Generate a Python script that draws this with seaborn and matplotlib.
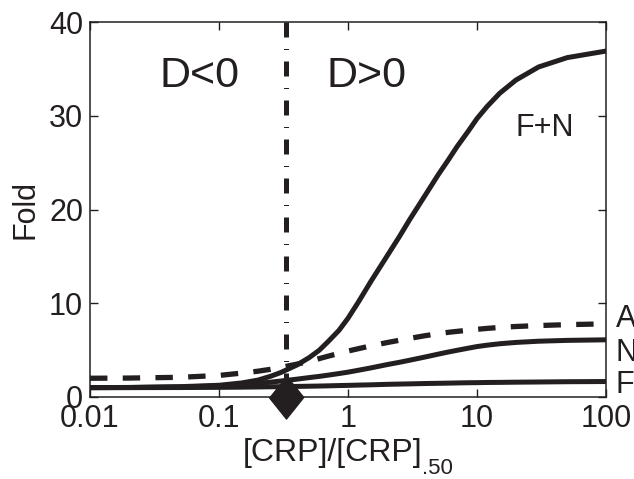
import matplotlib
matplotlib.use("Agg")
import numpy as np
import pandas as pd
import seaborn as sns
import matplotlib.pyplot as plt
from matplotlib.ticker import NullLocator

# values
crp = [0.01, 0.02, 0.05, 0.1, 0.15, 0.2, 0.25, 0.3, 0.4, 0.5,
       0.6, 0.7, 0.85, 1, 1.2, 1.5, 2, 2.5, 3, 4,
       5, 6, 7, 8.5, 10, 12, 15, 20, 30, 50, 100]
fold_FN = [1.0, 1.02, 1.1, 1.25, 1.5, 1.8, 2.2, 2.6, 3.4, 4.2,
           5.0, 5.9, 7.1, 8.4, 10.1, 12.3, 15.0, 17.1, 18.9, 21.6,
           23.7, 25.3, 26.7, 28.3, 29.7, 31.0, 32.4, 33.8, 35.2, 36.2, 36.9]
fold_A = [2.0, 2.02, 2.1, 2.3, 2.55, 2.75, 2.95, 3.15, 3.5, 3.8,
          4.1, 4.35, 4.65, 4.9, 5.15, 5.45, 5.8, 6.05, 6.25, 6.55,
          6.75, 6.9, 7.0, 7.12, 7.22, 7.32, 7.42, 7.52, 7.62, 7.72, 7.8]
fold_N = [1.0, 1.01, 1.07, 1.18, 1.32, 1.45, 1.58, 1.7, 1.9, 2.07,
          2.2, 2.33, 2.5, 2.65, 2.85, 3.1, 3.45, 3.7, 3.92, 4.28,
          4.57, 4.8, 4.98, 5.2, 5.38, 5.53, 5.68, 5.82, 5.95, 6.04, 6.1]
fold_F = [1.0, 1.0, 1.01, 1.03, 1.05, 1.07, 1.09, 1.1, 1.13, 1.15,
          1.17, 1.19, 1.22, 1.24, 1.27, 1.3, 1.35, 1.38, 1.4, 1.44,
          1.46, 1.48, 1.5, 1.52, 1.53, 1.55, 1.56, 1.58, 1.6, 1.63, 1.65]

threshold = 0.33   # D = 0 point
diamond_y = 0
xticks = [0.01, 0.1, 1, 10, 100]
xtick_labels = ["0.01", "0.1", "1", "10", "100"]
yticks = [0, 10, 20, 30, 40]

ink = "#231f20"

sns.set_style("ticks")
plt.rcParams["font.family"] = ["Liberation Sans", "DejaVu Sans"]

df = pd.DataFrame({"crp": crp, "F+N": fold_FN, "A": fold_A, "N": fold_N, "F": fold_F})

fig = plt.figure(figsize=(6.34, 4.79), dpi=100)
ax = fig.add_axes([90 / 634, 82 / 479, 516 / 634, 375 / 479])

# dash-dot separator, dashes start at the top like the original
ax.plot([threshold, threshold], [40, 0], color=ink, lw=3.6,
        linestyle=(0, (3.0, 2.3, 0.2, 2.3)), zorder=1)

# solid curves
for name in ["F", "N", "F+N"]:
    sns.lineplot(data=df, x="crp", y=name, ax=ax, color=ink, lw=3.6, legend=False)
# dashed curve A
sns.lineplot(data=df, x="crp", y="A", ax=ax, color=ink, lw=3.8,
             linestyle=(0, (3.3, 2.9)), legend=False)

ax.plot([threshold], [diamond_y], marker=[(0, 1), (0.8, 0), (0, -1), (-0.8, 0)],
        ms=31, color=ink, clip_on=False, zorder=6)

ax.set_xscale("log")
ax.set_xlim(0.01, 100)
ax.set_ylim(0, 40)
ax.set_xticks(xticks)
ax.set_xticklabels(xtick_labels)
ax.set_yticks(yticks)
ax.xaxis.set_minor_locator(NullLocator())
ax.tick_params(direction="in", length=6, width=1, top=True, right=True,
               labelsize=22, pad=5, colors=ink)
ax.set_xlabel("")
ax.set_ylabel("")
for sp in ax.spines.values():
    sp.set_visible(True)
    sp.set_linewidth(1.1)
    sp.set_color(ink)

ax.text(0.07, 34.2, "D<0", fontsize=31, ha="center", va="center", color=ink)
ax.text(1.38, 34.2, "D>0", fontsize=31, ha="center", va="center", color=ink)
ax.text(33.8, 28.7, "F+N", fontsize=22, ha="center", va="center", color=ink)

# labels beyond the right edge (cut by the figure edge as in the original)
for lab, ypx in zip(["A", "N", "F"], [319, 353, 385]):
    fig.text(616 / 634, 1 - ypx / 479, lab, fontsize=22, ha="left", va="center", color=ink)

fig.text(25 / 634, 1 - 209 / 479, "Fold", fontsize=22, rotation=90,
         ha="center", va="center", color=ink)
fig.text(243 / 634, 1 - 453 / 479, "[CRP]/[CRP]", fontsize=23, ha="left",
         va="center", color=ink)
fig.text(422 / 634, 1 - 469 / 479, ".50", fontsize=16, ha="left", va="center", color=ink)

fig.savefig("out.png", dpi=100)
